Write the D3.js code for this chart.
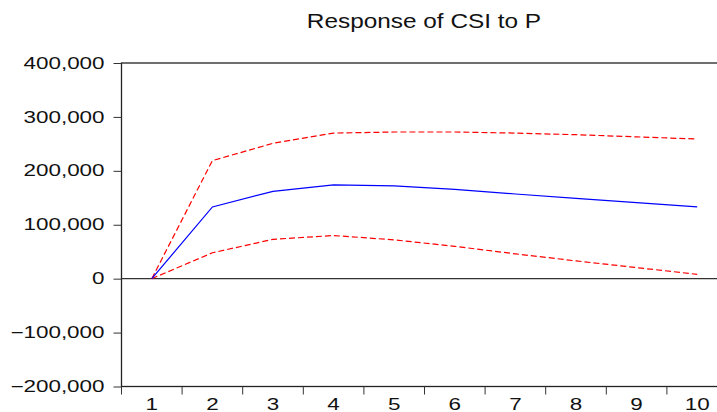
<!DOCTYPE html>
<html>
<head>
<meta charset="utf-8">
<script src="https://cdn.jsdelivr.net/npm/d3@7"></script>
<style>
  body { margin: 0; background: #fff; }
  svg { display: block; font-family: "Liberation Sans", Arial, sans-serif; }
</style>
</head>
<body>
<svg id="chart" width="717" height="412"></svg>
<script>
// data
var periods = [1, 2, 3, 4, 5, 6, 7, 8, 9, 10];
var response = [0, 133000, 162000, 174000, 172000, 165500, 157000, 149000, 141000, 133000];
var upperBand = [0, 219000, 251000, 270000, 272000, 272000, 270000, 267000, 263000, 259000];
var lowerBand = [0, 48000, 73000, 80000, 72000, 60000, 46000, 33000, 20500, 8000];
var yTicks = [-200000, -100000, 0, 100000, 200000, 300000, 400000];
var title = "Response of CSI to P";

// layout (window.top is taken, so prefix these)
var plotLeft = 121.5, plotTop = 63, plotBottom = 386.5;
var bandWidth = 60.6;
var plotRight = plotLeft + bandWidth * periods.length;  // runs past the picture edge
var stretch = 1.4;  // the source glyphs are drawn wide

var svg = d3.select("#chart");

var x = d3.scaleBand()
    .domain(periods)
    .range([plotLeft, plotRight])
    .padding(0);

var y = d3.scaleLinear()
    .domain([-200000, 400000])
    .range([plotBottom, plotTop]);

function widen(sel, factor) {
    sel.each(function () {
        var w = this.getComputedTextLength();
        d3.select(this)
            .attr("textLength", w * factor)
            .attr("lengthAdjust", "spacingAndGlyphs");
    });
}

// title
svg.append("text")
    .attr("x", 424)
    .attr("y", 28)
    .attr("text-anchor", "middle")
    .style("font-size", "21px")
    .attr("fill", "#111")
    .text(title)
    .call(widen, 1.16);

// frame
svg.append("rect")
    .attr("x", plotLeft)
    .attr("y", plotTop)
    .attr("width", plotRight - plotLeft)
    .attr("height", plotBottom - plotTop)
    .attr("fill", "none")
    .attr("stroke", "#222")
    .attr("stroke-width", 1.3);

// zero line
svg.append("line")
    .attr("x1", plotLeft).attr("x2", plotRight)
    .attr("y1", y(0)).attr("y2", y(0))
    .attr("stroke", "#333")
    .attr("stroke-width", 1.2);

// y axis
var yAxis = d3.axisLeft(y)
    .tickValues(yTicks)
    .tickFormat(d3.format(","))
    .tickSize(8)
    .tickPadding(9)
    .tickSizeOuter(0);

var yg = svg.append("g")
    .attr("transform", "translate(" + plotLeft + ",0)")
    .call(yAxis);
yg.select(".domain").remove();
yg.selectAll(".tick line").attr("stroke", "#333");
yg.selectAll("text")
    .style("font-size", "16px")
    .attr("fill", "#111")
    .call(widen, stretch);

// x axis: ticks sit on band edges, labels in the middle
svg.append("g")
    .selectAll("line")
    .data(periods)
    .enter()
    .append("line")
    .attr("x1", function (d) { return x(d); })
    .attr("x2", function (d) { return x(d); })
    .attr("y1", plotBottom)
    .attr("y2", plotBottom + 8)
    .attr("stroke", "#333");

var xAxis = d3.axisBottom(x).tickSize(0).tickSizeOuter(0);
var xg = svg.append("g")
    .attr("transform", "translate(0," + 410 + ")")
    .call(xAxis);
xg.select(".domain").remove();
xg.selectAll("text")
    .attr("y", 0)
    .attr("dy", null)
    .style("font-size", "16px")
    .attr("fill", "#111")
    .call(widen, stretch);

// lines
var line = d3.line()
    .x(function (d, i) { return x(periods[i]) + x.bandwidth() / 2; })
    .y(function (d) { return y(d); });

svg.append("path")
    .datum(upperBand)
    .attr("d", line)
    .attr("fill", "none")
    .attr("stroke", "#ff0000")
    .attr("stroke-width", 1.2)
    .attr("stroke-dasharray", "6,3");

svg.append("path")
    .datum(lowerBand)
    .attr("d", line)
    .attr("fill", "none")
    .attr("stroke", "#ff0000")
    .attr("stroke-width", 1.2)
    .attr("stroke-dasharray", "6,3");

svg.append("path")
    .datum(response)
    .attr("d", line)
    .attr("fill", "none")
    .attr("stroke", "#0000ff")
    .attr("stroke-width", 1.2);
</script>
</body>
</html>
